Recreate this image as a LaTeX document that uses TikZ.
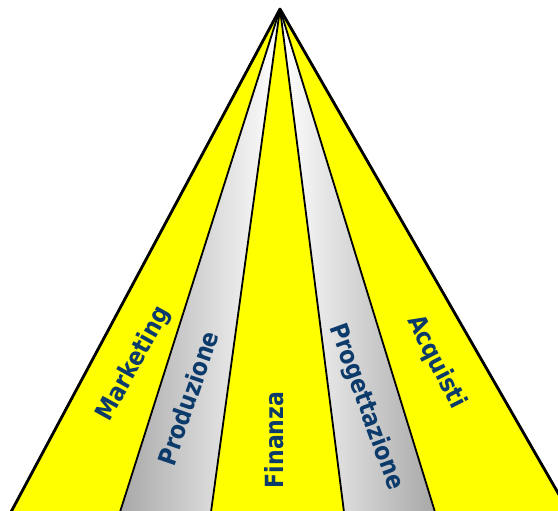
\documentclass[tikz,border=0pt]{standalone}
\usepackage{fontspec}
\setmainfont{DejaVu Sans}
\newcommand{\narrowlabel}[1]{\scalebox{0.88}[1]{#1}}
\begin{document}
\begin{tikzpicture}[x=1pt, y=-1pt, line join=round]
    \definecolor{wedgeYellow}{HTML}{FFFF00}
    \definecolor{labelColour}{HTML}{0B3A6B}
    \definecolor{wedgeGrey}{HTML}{A8A8A8}

    \tikzset{
        wedge/.style={draw=black, line width=1.8pt},
        label/.style={text=labelColour, font=\fontsize{25}{27}\selectfont\bfseries, inner sep=0pt}
    }

    % Page frame
    \clip (0,0) rectangle (558,511);

    % Apex and base points
    \coordinate (apex) at (280,9);
    \coordinate (B0) at (11,512);
    \coordinate (B1) at (120,512);
    \coordinate (B2) at (211,512);
    \coordinate (B3) at (344,512);
    \coordinate (B4) at (435,512);
    \coordinate (B5) at (569,512);

    % Wedges
    \fill[wedgeYellow] (apex) -- (B0) -- (B1) -- cycle;
    \shade[left color=wedgeGrey, right color=white] (apex) -- (B1) -- (B2) -- cycle;
    \fill[wedgeYellow] (apex) -- (B2) -- (B3) -- cycle;
    \shade[left color=white, right color=wedgeGrey] (apex) -- (B3) -- (B4) -- cycle;
    \fill[wedgeYellow] (apex) -- (B4) -- (B5) -- cycle;

    % Outlines
    \draw[wedge] (B0) -- (apex) -- (B5) -- cycle;
    \foreach \b in {B1,B2,B3,B4}
        \draw[wedge] (apex) -- (\b);
    \draw[line width=2.8pt] (B0) -- (apex) -- (B5);

    % Labels
    \node[label, rotate=61] (marketing) at (134,364) {\narrowlabel{Marketing}};
    \node[label, rotate=71] (produzione) at (188,398) {\narrowlabel{Produzione}};
    \node[label, rotate=90] (finanza) at (274,440) {\narrowlabel{Finanza}};
    \node[label, rotate=-70] (progettazione) at (366,407) {\narrowlabel{Progettazione}};
    \node[label, rotate=-63] (acquisti) at (436,362) {\narrowlabel{Acquisti}};
\end{tikzpicture}
\end{document}
